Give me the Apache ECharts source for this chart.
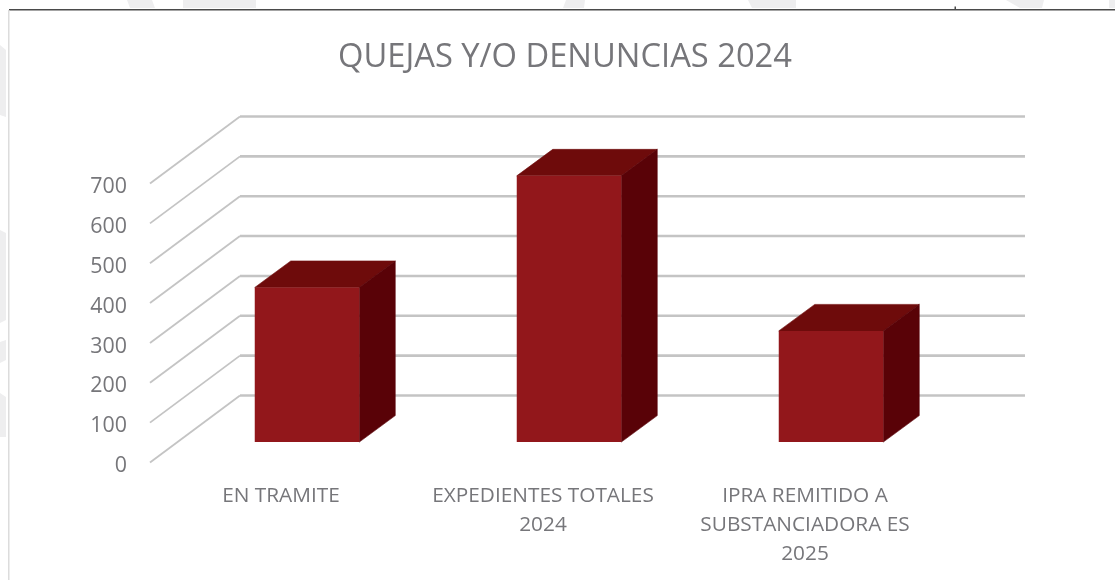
<!DOCTYPE html>
<html>
<head>
<meta charset="utf-8">
<style>
    html, body { margin: 0; padding: 0; background: #fff; }
    #main { width: 1115px; height: 580px; }
</style>
<script src="https://cdn.jsdelivr.net/npm/echarts@6/dist/echarts.min.js"></script>
</head>
<body>
<div id="main"></div>
<script>
    const titleText = "QUEJAS Y/O DENUNCIAS 2024";
    const categories = ["EN TRAMITE", "EXPEDIENTES TOTALES\n2024", "IPRA REMITIDO A\nSUBSTANCIADORA ES\n2025"];
    const values = [388, 668, 279];
    const yTicks = [0, 100, 200, 300, 400, 500, 600, 700];

    const textColor = "#76767a";
    const wallColor = "#c4c4c4";
    const markColor = "#eeeeef";

    // 3D look: depth of the wall and of the bars, in pixels
    const wallDepth = [90, -67];
    const barShift = [26, -20.4];
    const barDepth = [36, -26.5];
    const barWidth = 104.5;

    // faint watermark pieces showing round the sheet
    const marcas = [
        [[127, 0], [152, 0], [155, 8], [130, 8]],
        [[183, 0], [256, 0], [256, 8], [183, 8]],
        [[566, 0], [585, 0], [584, 8], [563, 8]],
        [[748, 0], [796, 0], [796, 8], [752, 8]],
        [[1006, 0], [1044, 0], [1042, 8], [1020, 8]],
        [[1109, 0], [1115, 0], [1115, 8], [1109, 8]],
        [[0, 45], [6, 50], [6, 117], [0, 115]],
        [[0, 230], [6, 233], [6, 320], [0, 323]],
        [[0, 342], [6, 340], [6, 360], [0, 363]],
        [[0, 393], [6, 397], [6, 437], [0, 437]]
    ];

    function 画网格(params, api) {
        var sys = params.coordSys;
        var p = api.coord([0, api.value(0)]);
        var x0 = sys.x, y0 = p[1];
        var x1 = x0 + wallDepth[0], y1 = y0 + wallDepth[1];
        return {
            type: "group",
            children: [
                {
                    type: "line",
                    shape: { x1: x0, y1: y0, x2: x1, y2: y1 },
                    style: { stroke: wallColor, lineWidth: 1.8 }
                },
                {
                    type: "line",
                    shape: { x1: x1, y1: y1, x2: x1 + sys.width - 1, y2: y1 },
                    style: { stroke: wallColor, lineWidth: 2.6 }
                }
            ]
        };
    }

    function 画柱子(params, api) {
        var top = api.coord([api.value(0), api.value(1)]);
        var bottom = api.coord([api.value(0), 0]);
        var l = top[0] + barShift[0] - barWidth / 2;
        var r = l + barWidth;
        var t = top[1] + barShift[1];
        var b = bottom[1] + barShift[1];
        var dx = barDepth[0], dy = barDepth[1];
        return {
            type: "group",
            children: [
                {
                    type: "polygon",
                    shape: { points: [[l, t], [r, t], [r + dx, t + dy], [l + dx, t + dy]] },
                    style: { fill: "#6e0b0b", stroke: "#6e0b0b", lineWidth: 0.6 }
                },
                {
                    type: "polygon",
                    shape: { points: [[r, t], [r + dx, t + dy], [r + dx, b + dy], [r, b]] },
                    style: { fill: "#590207", stroke: "#590207", lineWidth: 0.6 }
                },
                {
                    type: "rect",
                    shape: { x: l, y: t, width: barWidth, height: b - t },
                    style: { fill: "#92171b" }
                }
            ]
        };
    }

    var graficos = marcas.map(function (p) {
        return { type: "polygon", shape: { points: p }, style: { fill: markColor } };
    });
    graficos.push(
        { type: "rect", shape: { x: 9, y: 9, width: 1106, height: 1.5 }, style: { fill: "#4a4a4a" } },
        { type: "rect", shape: { x: 8, y: 10, width: 1.5, height: 570 }, style: { fill: "#dcdcdc" } },
        { type: "rect", shape: { x: 954.5, y: 6.5, width: 1.5, height: 2.5 }, style: { fill: "#4a4a4a" } }
    );

    var myChart = echarts.init(document.getElementById("main"));
    var option = {
        animation: false,
        backgroundColor: "#fff",
        title: {
            text: titleText,
            left: 560,
            top: 36,
            textAlign: "center",
            textStyle: { fontFamily: "Open Sans", fontSize: 32.7, fontWeight: "normal", color: textColor }
        },
        grid: { left: 150, top: 183.5, width: 786, height: 279 },
        xAxis: {
            type: "category",
            data: categories,
            axisLine: { show: false },
            axisTick: { show: false },
            axisLabel: { fontFamily: "Open Sans", fontSize: 20.8, color: textColor, margin: 19, lineHeight: 29, interval: 0 }
        },
        yAxis: {
            type: "value",
            min: 0,
            max: 700,
            interval: 100,
            axisLine: { show: false },
            axisTick: { show: false },
            splitLine: { show: false },
            axisLabel: { fontFamily: "Open Sans", fontSize: 21.4, color: textColor, margin: 23, verticalAlign: "top", lineHeight: 7 }
        },
        graphic: graficos,
        series: [
            {
                type: "custom",
                renderItem: 画网格,
                data: yTicks.map(function (v) { return [v]; }),
                encode: { y: 0 },
                silent: true,
                z: 1
            },
            {
                type: "custom",
                renderItem: 画柱子,
                data: values.map(function (v, i) { return [i, v]; }),
                encode: { x: 0, y: 1 },
                z: 2
            }
        ]
    };
    myChart.setOption(option);
</script>
</body>
</html>
